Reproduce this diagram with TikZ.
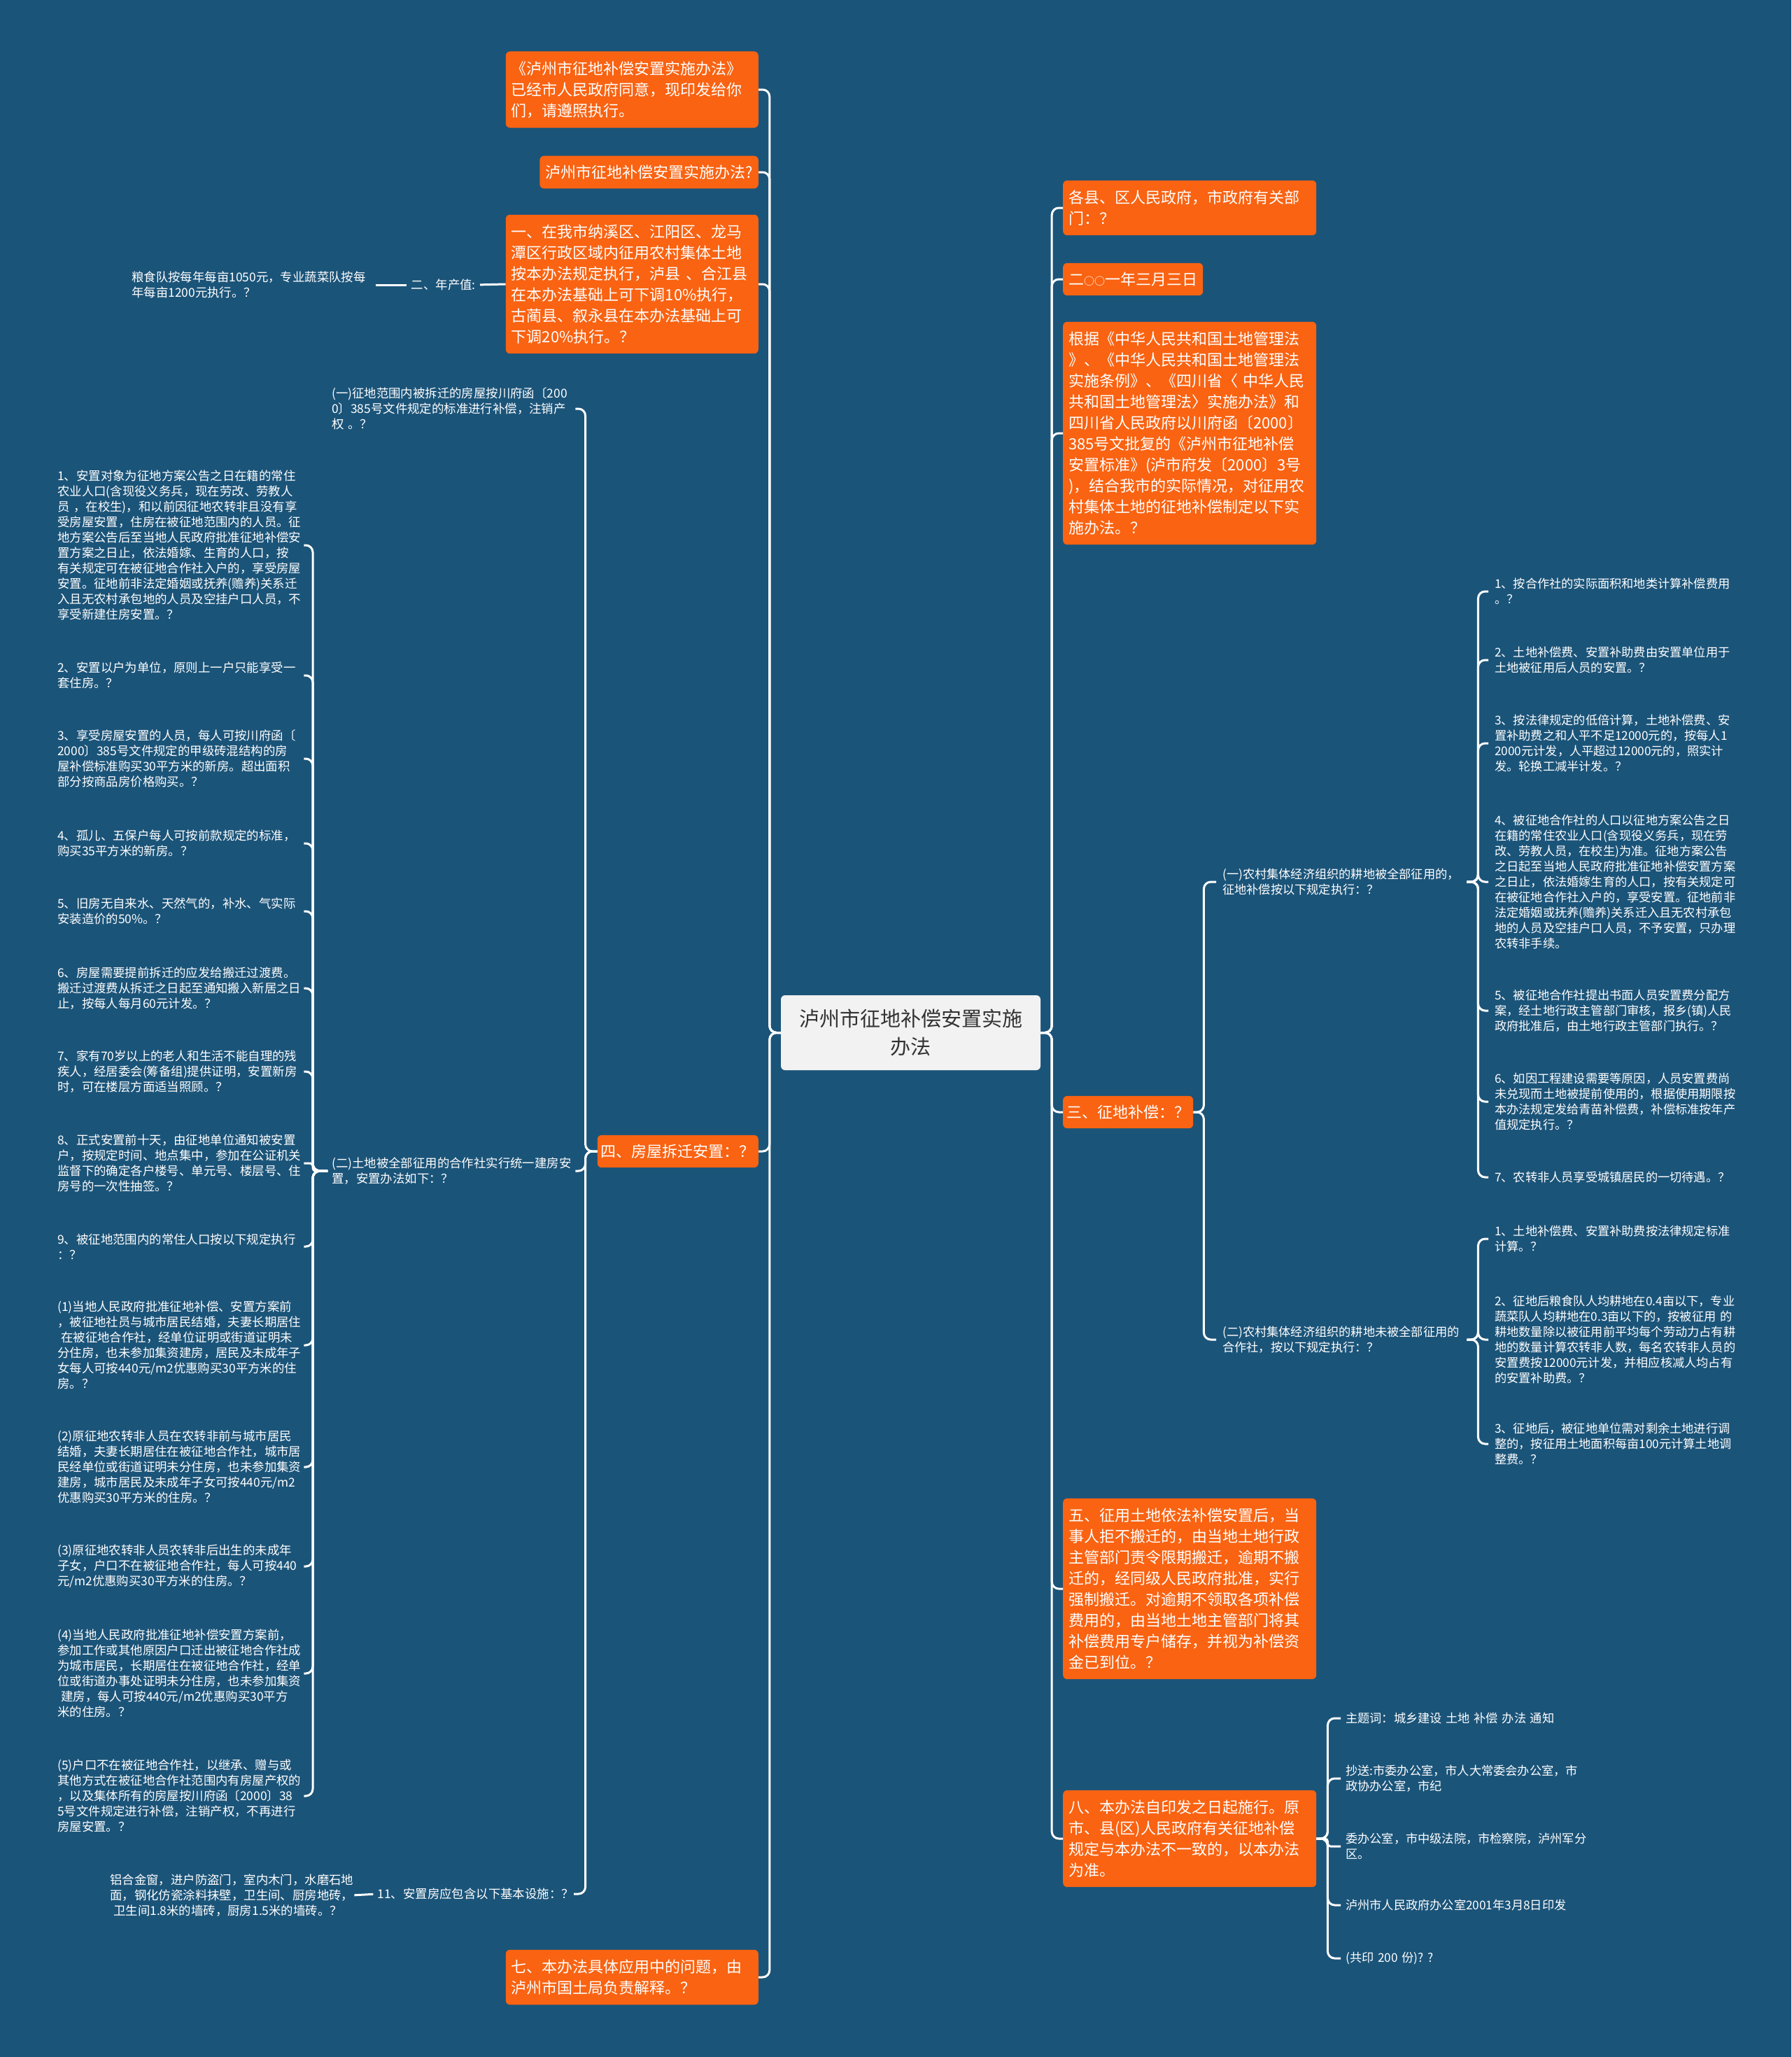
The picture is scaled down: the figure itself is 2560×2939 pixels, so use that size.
\documentclass[tikz,border=0pt]{standalone}
\usepackage{fontspec}
\setmainfont{Noto Sans CJK SC}
\definecolor{bg}{HTML}{1B5479}
\definecolor{org}{HTML}{F96312}
\definecolor{ctrfill}{HTML}{F2F2F2}
\definecolor{ctrtxt}{HTML}{333333}
\newcommand{\smallcirc}{{\fontsize{15}{15}\selectfont ○}}
\begin{document}
\begin{tikzpicture}[x=1pt,y=-1pt,
  link/.style={draw=white, line width=3pt, rounded corners=10pt},
  tight/.style={draw=white, line width=3pt, rounded corners=4pt},
  obox/.style={fill=org, text=white, rounded corners=6pt, inner xsep=8pt, inner ysep=14pt, font=\fontsize{22}{30}\selectfont, align=left},
  leaf/.style={text=white, inner sep=0pt, font=\fontsize{17.4}{22}\selectfont, align=left},
  rleaf/.style={text=white, inner sep=0pt, font=\fontsize{17.2}{22}\selectfont, align=left}]
\fill[bg] (0,0) rectangle (2560,2939);
\useasboundingbox (0,0) rectangle (2560,2939);

% centre
\node[fill=ctrfill, text=ctrtxt, rounded corners=6pt, minimum width=371pt, minimum height=107pt, align=center, font=\fontsize{29}{40}\selectfont] (ctr) at (1301.5,1475.5) {泸州市征地补偿安置实施\\办法};

% left main boxes
\node[obox, text width=345pt, anchor=east] (b1) at (1084,128) {《泸州市征地补偿安置实施办法》\\已经市人民政府同意，现印发给你\\们，请遵照执行。};
\node[obox, anchor=east, inner ysep=13pt] (b2) at (1084,246) {泸州市征地补偿安置实施办法?};
\node[obox, text width=345pt, anchor=east] (b3) at (1084,406) {一、在我市纳溪区、江阳区、龙马\\潭区行政区域内征用农村集体土地\\按本办法规定执行，泸县~、合江县\\在本办法基础上可下调10\%执行，\\古蔺县、叙永县在本办法基础上可\\下调20\%执行。？};
\node[obox, anchor=east, inner xsep=5pt, inner ysep=13pt] (b4) at (1084,1645) {四、房屋拆迁安置：？};
\node[obox, text width=345pt, anchor=east] (b7) at (1084,2825) {七、本办法具体应用中的问题，由\\泸州市国土局负责解释。？};

% right main boxes
\node[obox, text width=346pt, anchor=west] (r1box) at (1519,297) {各县、区人民政府，市政府有关部\\门：？};
\node[obox, anchor=west, inner xsep=8pt, inner ysep=13pt] (r2box) at (1519,399) {二\smallcirc\smallcirc 一年三月三日};
\node[obox, text width=346pt, anchor=west] (r3box) at (1519,619) {根据《中华人民共和国土地管理法\\》、《中华人民共和国土地管理法\\实施条例》、《四川省〈~中华人民\\共和国土地管理法〉实施办法》和\\四川省人民政府以川府函〔2000〕\\385号文批复的《泸州市征地补偿\\安置标准》(泸市府发〔2000〕3号\\)，结合我市的实际情况，对征用农\\村集体土地的征地补偿制定以下实\\施办法。？};
\node[obox, anchor=west, inner xsep=5pt, inner ysep=13pt] (r4box) at (1519,1589) {三、征地补偿：？};
\node[obox, text width=346pt, anchor=west] (r5box) at (1519,2270) {五、征用土地依法补偿安置后，当\\事人拒不搬迁的，由当地土地行政\\主管部门责令限期搬迁，逾期不搬\\迁的，经同级人民政府批准，实行\\强制搬迁。对逾期不领取各项补偿\\费用的，由当地土地主管部门将其\\补偿费用专户储存，并视为补偿资\\金已到位。？};
\node[obox, text width=346pt, anchor=west] (r6box) at (1519,2627) {八、本办法自印发之日起施行。原\\市、县(区)人民政府有关征地补偿\\规定与本办法不一致的，以本办法\\为准。};

% under b3
\node[leaf, anchor=east] (nian) at (680,407) {二、年产值:};
\node[leaf, anchor=west, text width=335pt] (liang) at (188,407) {粮食队按每年每亩1050元，专业蔬菜队按每\\年每亩1200元执行。？};

% under b4
\node[leaf, anchor=west, text width=348pt] (h1) at (474,584) {(一)征地范围内被拆迁的房屋按川府函〔200\\0〕385号文件规定的标准进行补偿，注销产\\权~。？};
\node[leaf, anchor=west, text width=348pt] (h2) at (474,1673) {(二)土地被全部征用的合作社实行统一建房安\\置，安置办法如下：？};
\node[leaf, anchor=east] (h11) at (820,2706) {11、安置房应包含以下基本设施：？};
\node[leaf, anchor=west, text width=345pt] (alu) at (157,2708) {铝合金窗，进户防盗门，室内木门，水磨石地\\面，钢化仿瓷涂料抹壁，卫生间、厨房地砖，\\\hspace*{5pt}卫生间1.8米的墙砖，厨房1.5米的墙砖。？};

% under h2
\node[leaf, anchor=west, text width=352pt] (i1) at (82,779) {1、安置对象为征地方案公告之日在籍的常住\\农业人口(含现役义务兵，现在劳改、劳教人\\员~，在校生)，和以前因征地农转非且没有享\\受房屋安置，住房在被征地范围内的人员。征\\地方案公告后至当地人民政府批准征地补偿安\\置方案之日止，依法婚嫁、生育的人口，按\\有关规定可在被征地合作社入户的，享受房屋\\安置。征地前非法定婚姻或抚养(赡养)关系迁\\入且无农村承包地的人员及空挂户口人员，不\\享受新建住房安置。？};
\node[leaf, anchor=west, text width=352pt] (i2) at (82,965) {2、安置以户为单位，原则上一户只能享受一\\套住房。？};
\node[leaf, anchor=west, text width=352pt] (i3) at (82,1084) {3、享受房屋安置的人员，每人可按川府函〔\\2000〕385号文件规定的甲级砖混结构的房\\屋补偿标准购买30平方米的新房。超出面积\\部分按商品房价格购买。？};
\node[leaf, anchor=west, text width=352pt] (i4) at (82,1205) {4、孤儿、五保户每人可按前款规定的标准，\\购买35平方米的新房。？};
\node[leaf, anchor=west, text width=352pt] (i5) at (82,1302) {5、旧房无自来水、天然气的，补水、气实际\\安装造价的50\%。？};
\node[leaf, anchor=west, text width=352pt] (i6) at (82,1412) {6、房屋需要提前拆迁的应发给搬迁过渡费。\\搬迁过渡费从拆迁之日起至通知搬入新居之日\\止，按每人每月60元计发。？};
\node[leaf, anchor=west, text width=352pt] (i7) at (82,1531) {7、家有70岁以上的老人和生活不能自理的残\\疾人，经居委会(筹备组)提供证明，安置新房\\时，可在楼层方面适当照顾。？};
\node[leaf, anchor=west, text width=352pt] (i8) at (82,1662) {8、正式安置前十天，由征地单位通知被安置\\户，按规定时间、地点集中，参加在公证机关\\监督下的确定各户楼号、单元号、楼层号、住\\房号的一次性抽签。？};
\node[leaf, anchor=west, text width=352pt] (i9) at (82,1781) {9、被征地范围内的常住人口按以下规定执行\\：？};
\node[leaf, anchor=west, text width=352pt] (i10) at (82,1922) {(1)当地人民政府批准征地补偿、安置方案前\\，被征地社员与城市居民结婚，夫妻长期居住\\\hspace*{5pt}在被征地合作社，经单位证明或街道证明未\\分住房，也未参加集资建房，居民及未成年子\\女每人可按440元/m2优惠购买30平方米的住\\房。？};
\node[leaf, anchor=west, text width=352pt] (i11) at (82,2096) {(2)原征地农转非人员在农转非前与城市居民\\结婚，夫妻长期居住在被征地合作社，城市居\\民经单位或街道证明未分住房，也未参加集资\\建房，城市居民及未成年子女可按440元/m2\\优惠购买30平方米的住房。？};
\node[leaf, anchor=west, text width=352pt] (i12) at (82,2238) {(3)原征地农转非人员农转非后出生的未成年\\子女，户口不在被征地合作社，每人可按440\\元/m2优惠购买30平方米的住房。？};
\node[leaf, anchor=west, text width=352pt] (i13) at (82,2391) {(4)当地人民政府批准征地补偿安置方案前，\\参加工作或其他原因户口迁出被征地合作社成\\为城市居民，长期居住在被征地合作社，经单\\位或街道办事处证明未分住房，也未参加集资\\\hspace*{5pt}建房，每人可按440元/m2优惠购买30平方\\米的住房。？};
\node[leaf, anchor=west, text width=352pt] (i14) at (82,2566) {(5)户口不在被征地合作社，以继承、赠与或\\其他方式在被征地合作社范围内有房屋产权的\\，以及集体所有的房屋按川府函〔2000〕38\\5号文件规定进行补偿，注销产权，不再进行\\房屋安置。？};

% under r4box
\node[rleaf, anchor=west, text width=345pt] (k1) at (1747,1260) {(一)农村集体经济组织的耕地被全部征用的，\\征地补偿按以下规定执行：？};
\node[rleaf, anchor=west, text width=345pt] (k2) at (1747,1914) {(二)农村集体经济组织的耕地未被全部征用的\\合作社，按以下规定执行：？};

\node[rleaf, anchor=west, text width=352pt] (m1) at (2136,845) {1、按合作社的实际面积和地类计算补偿费用\\。？};
\node[rleaf, anchor=west, text width=352pt] (m2) at (2136,943) {2、土地补偿费、安置补助费由安置单位用于\\土地被征用后人员的安置。？};
\node[rleaf, anchor=west, text width=352pt] (m3) at (2136,1062) {3、按法律规定的低倍计算，土地补偿费、安\\置补助费之和人平不足12000元的，按每人1\\2000元计发，人平超过12000元的，照实计\\发。轮换工减半计发。？};
\node[rleaf, anchor=west, text width=352pt] (m4) at (2136,1260) {4、被征地合作社的人口以征地方案公告之日\\在籍的常住农业人口(含现役义务兵，现在劳\\改、劳教人员，在校生)为准。征地方案公告\\之日起至当地人民政府批准征地补偿安置方案\\之日止，依法婚嫁生育的人口，按有关规定可\\在被征地合作社入户的，享受安置。征地前非\\法定婚姻或抚养(赡养)关系迁入且无农村承包\\地的人员及空挂户口人员，不予安置，只办理\\农转非手续。};
\node[rleaf, anchor=west, text width=352pt] (m5) at (2136,1444) {5、被征地合作社提出书面人员安置费分配方\\案，经土地行政主管部门审核，报乡(镇)人民\\政府批准后，由土地行政主管部门执行。？};
\node[rleaf, anchor=west, text width=352pt] (m6) at (2136,1574) {6、如因工程建设需要等原因，人员安置费尚\\未兑现而土地被提前使用的，根据使用期限按\\本办法规定发给青苗补偿费，补偿标准按年产\\值规定执行。？};
\node[rleaf, anchor=west, text width=352pt] (m7) at (2136,1682) {7、农转非人员享受城镇居民的一切待遇。？};

\node[rleaf, anchor=west, text width=352pt] (s1) at (2136,1770) {1、土地补偿费、安置补助费按法律规定标准\\计算。？};
\node[rleaf, anchor=west, text width=352pt] (s2) at (2136,1914) {2、征地后粮食队人均耕地在0.4亩以下，专业\\蔬菜队人均耕地在0.3亩以下的，按被征用~的\\耕地数量除以被征用前平均每个劳动力占有耕\\地的数量计算农转非人数，每名农转非人员的\\安置费按12000元计发，并相应核减人均占有\\的安置补助费。？};
\node[rleaf, anchor=west, text width=352pt] (s3) at (2136,2063) {3、征地后，被征地单位需对剩余土地进行调\\整的，按征用土地面积每亩100元计算土地调\\整费。？};

% under r6box
\node[rleaf, anchor=west, text width=360pt] (t1) at (1923,2455) {主题词：城乡建设~土地~补偿~办法~通知};
\node[rleaf, anchor=west, text width=360pt] (t2) at (1923,2541) {抄送:市委办公室，市人大常委会办公室，市\\政协办公室，市纪};
\node[rleaf, anchor=west, text width=360pt] (t3) at (1923,2638) {委办公室，市中级法院，市检察院，泸州军分\\区。};
\node[rleaf, anchor=west, text width=360pt] (t4) at (1923,2722) {泸州市人民政府办公室2001年3月8日印发};
\node[rleaf, anchor=west, text width=360pt] (t5) at (1923,2798) {(共印~200~份)?~?};

% connectors: left trunk
\foreach \n in {b1,b2,b3,b4,b7} \draw[link] (ctr.west) -- ++(-16,0) |- (\n.east);
% right trunk
\foreach \n in {r1box,r2box,r3box,r4box,r5box,r6box} \draw[link] (ctr.east) -- ++(16,0) |- (\n.west);
% b3 chain
\draw[link, shorten >=6pt] (b3.west) -- (nian.east);
\draw[link, shorten <=7pt, shorten >=14pt] (nian.west) -- (liang.east);
% b4 children
\foreach \n in {h1,h2,h11} \draw[link] (b4.west) -- ++(-17,0) |- (\n.east);
\draw[link, shorten <=6pt, shorten >=4pt] (h11.west) -- (alu.east);
% h2 children
\foreach \n in {i1,i2,i3,i4,i5,i6,i7,i9,i10,i11,i12,i13,i14} \draw[link, shorten <=6pt] (h2.west) -- ++(-27,0) |- (\n.east);
\draw[tight, shorten <=6pt] (h2.west) -- ++(-27,0) |- (i8.east);
% r4 children
\foreach \n in {k1,k2} \draw[link, shorten >=9pt] (r4box.east) -- ++(15,0) |- (\n.west);
\foreach \n in {m1,m2,m3,m4,m5,m6,m7} \draw[link, shorten <=4pt, shorten >=9pt] (k1.east) -- ++(20,0) |- (\n.west);
\foreach \n in {s1,s2,s3} \draw[link, shorten <=4pt, shorten >=9pt] (k2.east) -- ++(20,0) |- (\n.west);
% r6 children
\foreach \n in {t1,t2,t4,t5} \draw[link, shorten >=7pt] (r6box.east) -- ++(16,0) |- (\n.west);
\draw[tight, shorten >=7pt] (r6box.east) -- ++(16,0) |- (t3.west);
\end{tikzpicture}
\end{document}
